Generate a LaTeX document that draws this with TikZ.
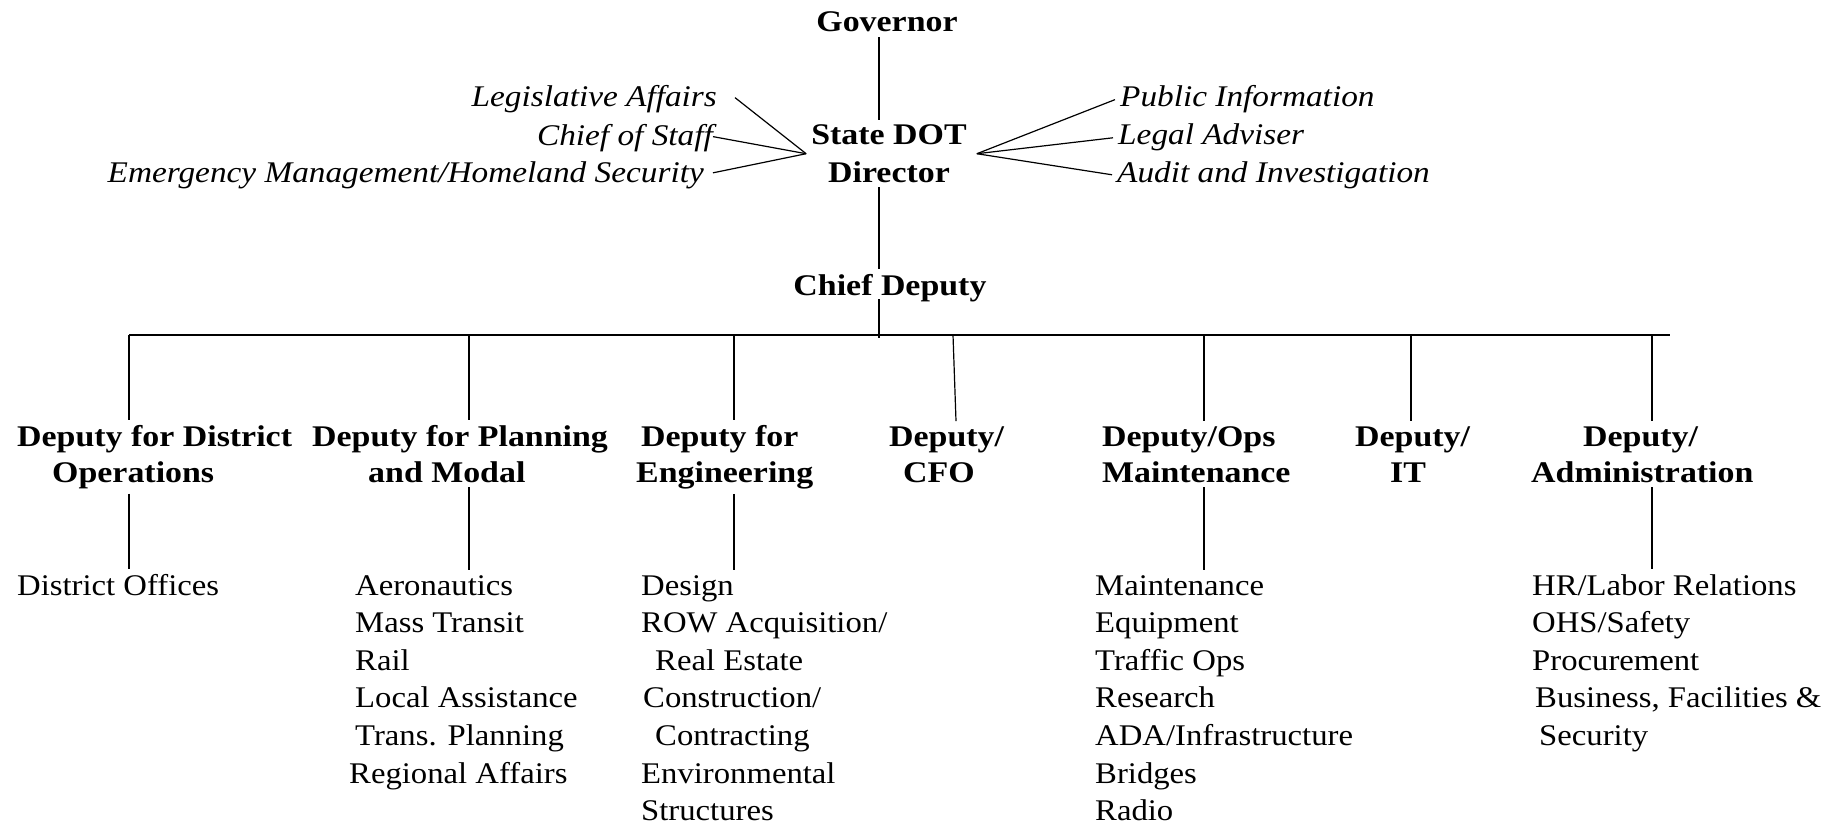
\documentclass[tikz,border=0pt]{standalone}
\usepackage{fontspec}
\setmainfont{Liberation Serif}[UprightFeatures={FakeStretch=1.09},BoldFeatures={FakeStretch=1.13},ItalicFeatures={FakeStretch=1.11}]
\usetikzlibrary{calc}
\tikzset{
  hd/.style={inner sep=5pt, font=\fontsize{30}{36}\selectfont\bfseries, align=left, anchor=base west},
  topbox/.style={inner sep=5pt, font=\fontsize{30}{37}\selectfont\bfseries, align=center, anchor=base},
  side/.style={inner sep=5pt, font=\fontsize{30}{37}\selectfont\itshape},
  lst/.style={inner sep=5pt, font=\fontsize{30}{37.6}\selectfont, align=left, anchor=base west},
  ln/.style={line width=1.2pt},
  bar/.style={line width=1.8pt}
}
\begin{document}
\begin{tikzpicture}[x=1pt,y=-1pt]
\useasboundingbox (0,0) rectangle (1841,824);
\fill[white] (0,0) rectangle (1841,824);

% top chain (base anchor = baseline of the last line)
\coordinate (spine) at (879,0);
\node[topbox] (gov) at (887,32) {Governor};
\node[topbox] (dir) at (889,182) {State DOT\\Director};
\node[topbox] (chief) at (890,295) {Chief Deputy};

% side offices
\node[side, anchor=base east] (leg) at (722,107) {Legislative Affairs};
\node[side, anchor=base east] (cos) at (718,146) {Chief of Staff};
\node[side, anchor=base east] (emg) at (709,182) {Emergency Management/Homeland Security};
\node[side, anchor=base west] (pub) at (1115,107) {Public Information};
\node[side, anchor=base west] (lgl) at (1113,145) {Legal Adviser};
\node[side, anchor=base west] (aud) at (1112,182) {Audit and Investigation};

\draw[ln] (leg.east) ++(13,-2) -- (dir.west);
\draw[ln] (cos.east) ++(-5,-2) -- (dir.west);
\draw[ln] (emg.east) ++(4,-2) -- (dir.west);
\draw[ln] ($(dir.east)+(5,0)$) -- (pub.west);
\draw[ln] ($(dir.east)+(5,0)$) -- (lgl.west);
\draw[ln] ($(dir.east)+(5,0)$) -- (aud.west);

% horizontal bar and drop points
\coordinate (hL) at (129,335);
\coordinate (hR) at (1670,335);
\coordinate (k1) at (129,335);
\coordinate (k2) at (469,335);
\coordinate (k3) at (734,335);
\coordinate (k4) at (953,335);
\coordinate (k5) at (1204,335);
\coordinate (k6) at (1411,335);
\coordinate (k7) at (1652,335);
\draw[bar] (hL) -- (hR);

\draw[ln] (spine |- gov.south) -- (spine |- dir.north);
\draw[ln] (spine |- dir.south) -- (spine |- chief.north);
\draw[ln] (spine |- chief.base) ++(0,4) -- ($(spine |- hL)+(0,3)$);

% deputies (anchored at the baseline of their second line)
\node[hd] (d1) at (12,482) {Deputy for District\\\hspace*{35pt}Operations};
\node[hd] (d2) at (307,482) {Deputy for Planning\\\hspace*{56pt}and Modal};
\node[hd] (d3) at (631,482) {\hspace*{5pt}Deputy for\\Engineering};
\node[hd] (d4) at (884,482) {Deputy/\\\hspace*{14pt}CFO};
\node[hd] (d5) at (1097,482) {Deputy/Ops\\Maintenance};
\node[hd] (d6) at (1350,482) {Deputy/\\\hspace*{35pt}IT};
\node[hd] (d7) at (1526,482) {\hspace*{52pt}Deputy/\\Administration};

% sub units (anchored at the baseline of their last line)
\node[lst] (l1) at (12,595) {District Offices};
\node[lst] (l2) at (344,783) {\hspace*{6pt}Aeronautics\\\hspace*{6pt}Mass Transit\\\hspace*{6pt}Rail\\\hspace*{6pt}Local Assistance\\\hspace*{6pt}Trans. Planning\\Regional Affairs};
\node[lst] (l3) at (636,820.6) {Design\\ROW Acquisition/\\\hspace*{14pt}Real Estate\\\hspace*{2pt}Construction/\\\hspace*{14pt}Contracting\\Environmental\\Structures};
\node[lst] (l5) at (1090,820.6) {Maintenance\\Equipment\\Traffic Ops\\Research\\ADA/Infrastructure\\Bridges\\Radio};
\node[lst] (l7) at (1527,745.4) {HR/Labor Relations\\OHS/Safety\\Procurement\\\hspace*{3pt}Business, Facilities \&\\\hspace*{7pt}Security};

% drops from bar to deputies
\draw[ln] (k1) -- (k1 |- d1.north);
\draw[ln] (k2) -- (k2 |- d2.north);
\draw[ln] (k3) -- (k3 |- d3.north);
\draw[ln] (k4) -- ($(k4 |- d4.north)+(3,0)$);
\draw[ln] (k5) -- (k5 |- d5.north);
\draw[ln] (k6) -- (k6 |- d6.north);
\draw[ln] (k7) -- (k7 |- d7.north);

% deputies to sub units
\draw[ln] (k1 |- d1.south) -- (k1 |- l1.north);
\draw[ln] (k2 |- d2.south) -- (k2 |- l2.north);
\draw[ln] (k3 |- d3.south) -- (k3 |- l3.north);
\draw[ln] (k5 |- d5.south) -- (k5 |- l5.north);
\draw[ln] (k7 |- d7.south) -- (k7 |- l7.north);
\end{tikzpicture}
\end{document}
